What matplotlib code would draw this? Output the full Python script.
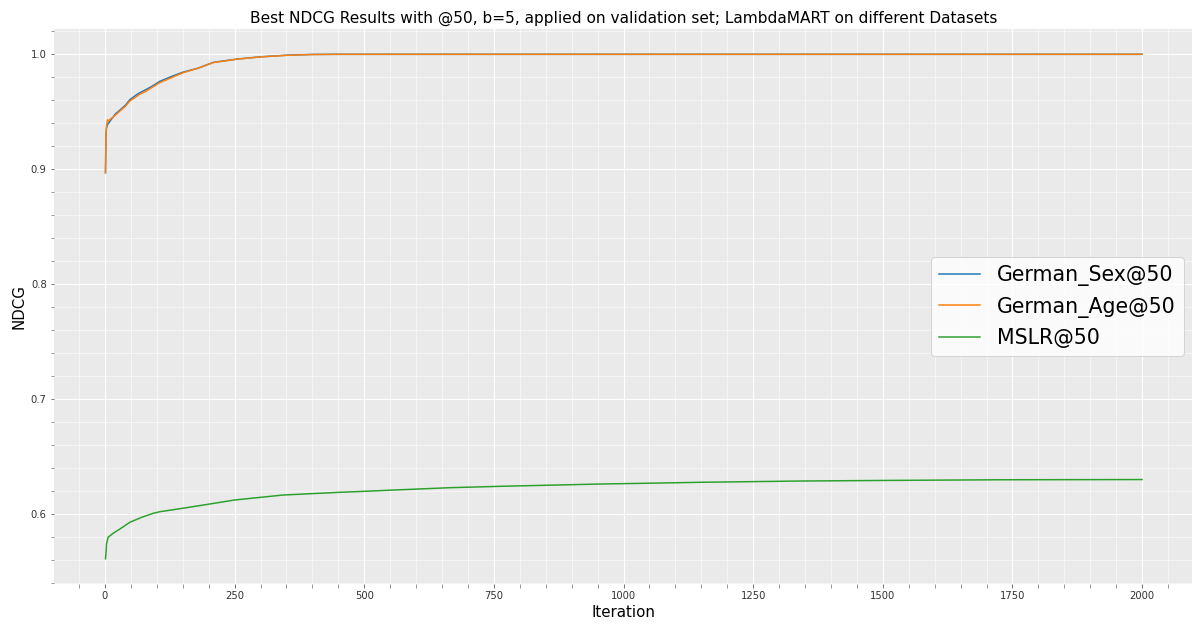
import matplotlib.pyplot as plt
from matplotlib.ticker import MultipleLocator

# values
german_iters = [1, 2, 3, 5, 7, 10, 15, 20, 29, 40, 48, 60, 67, 80, 90, 106, 130,
                151, 180, 209, 254, 299, 350, 400, 450, 500, 2000]
german_sex = [0.897, 0.929, 0.936, 0.939, 0.940, 0.942, 0.945, 0.948, 0.9515,
              0.956, 0.9605, 0.9645, 0.9665, 0.9695, 0.972, 0.9765, 0.981,
              0.9845, 0.988, 0.993, 0.9958, 0.9978, 0.9992, 0.9999, 1.0, 1.0, 1.0]
german_age = [0.897, 0.930, 0.938, 0.943, 0.942, 0.9435, 0.945, 0.947, 0.9507,
              0.955, 0.9594, 0.963, 0.9652, 0.968, 0.971, 0.9754, 0.980, 0.984,
              0.988, 0.9928, 0.9957, 0.9977, 0.9991, 0.9998, 1.0, 1.0, 1.0]

mslr_iters = [1, 2, 3, 6, 15, 29, 48, 70, 93, 106, 150, 202, 250, 343, 453, 498,
              569, 665, 762, 955, 1050, 1147, 1340, 1533, 1726, 2000]
mslr = [0.561, 0.566, 0.574, 0.5797, 0.583, 0.587, 0.5928, 0.597, 0.6006, 0.602,
        0.605, 0.6087, 0.6122, 0.6165, 0.6189, 0.6197, 0.6211, 0.6229, 0.6241,
        0.6261, 0.6268, 0.6276, 0.6287, 0.6293, 0.6298, 0.630]

fig = plt.figure(figsize=(1192 / 72, 624 / 72), dpi=72)
ax = fig.add_axes([0.045, 0.064, 0.9566, 0.8894])
ax.set_facecolor('#EAEAEA')
for s in ax.spines.values():
    s.set_visible(False)

ax.plot(german_iters, german_sex, color='#1f77b4', lw=1.5, label='German_Sex@50')
ax.plot(german_iters, german_age, color='#ff7f0e', lw=1.5, label='German_Age@50')
ax.plot(mslr_iters, mslr, color='#2ca02c', lw=1.5, label='MSLR@50')

ax.xaxis.set_major_locator(MultipleLocator(250))
ax.xaxis.set_minor_locator(MultipleLocator(50))
ax.yaxis.set_major_locator(MultipleLocator(0.1))
ax.yaxis.set_minor_locator(MultipleLocator(0.02))
ax.grid(True, which='major', color='white', lw=1.1)
ax.grid(True, which='minor', color='white', lw=0.7, alpha=0.8)
ax.set_axisbelow(True)
ax.tick_params(which='both', direction='out', length=3.5, color='#555555',
               labelsize=10, labelcolor='#333333')

ax.set_xlabel('Iteration', fontsize=15)
ax.set_ylabel('NDCG', fontsize=15)
ax.set_title('Best NDCG Results with @50, b=5, applied on validation set; '
             'LambdaMART on different Datasets', fontsize=15.4)
ax.legend(loc='center right', fontsize=20.5)

fig.savefig('out.png', dpi=72)
